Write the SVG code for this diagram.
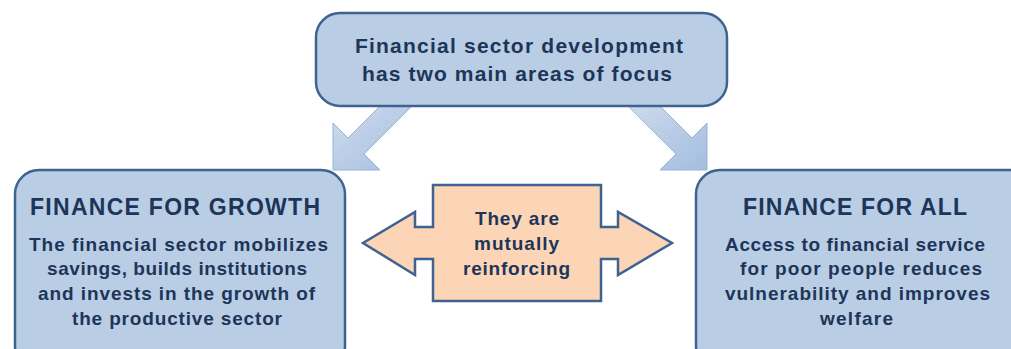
<svg xmlns="http://www.w3.org/2000/svg" width="1011" height="349" viewBox="0 0 1011 349">
<style>
.box{fill:#b9cde5;stroke:#3f6390;stroke-width:2.5}
.dbl{fill:#fbd5b5;stroke:#3f6390;stroke-width:2.5;stroke-linejoin:miter}
.diag{fill:url(#g);stroke:#9ab2d3;stroke-width:1}
text{font-family:"Liberation Sans",Arial,sans-serif;font-weight:bold;fill:#1d3558;text-anchor:middle}
.t{font-size:21px}
.h{font-size:23px}
.b{font-size:19px}
</style>
<defs>
<linearGradient id="g" x1="0" y1="0" x2="1" y2="1">
<stop offset="0" stop-color="#d0ddef"/>
<stop offset="1" stop-color="#a4bddf"/>
</linearGradient>
</defs>
<rect width="1011" height="349" fill="#ffffff"/>
<g id="connectors">
<polygon class="diag" points="386,100 348,138 333,123 333,170 380,170 364,154 418,100"/>
<polygon class="diag" points="654,100 692,138 707,123 707,170 660,170 676,154 622,100"/>
</g>
<g id="top">
<rect class="box" x="316" y="13" width="411" height="93" rx="24"/>
<text class="t" x="519" y="53" textLength="328" lengthAdjust="spacing">Financial sector development</text>
<text class="t" x="517" y="81" textLength="310" lengthAdjust="spacing">has two main areas of focus</text>
</g>
<g id="growth">
<rect class="box" x="15" y="170" width="330" height="200" rx="24"/>
<text class="h" x="175" y="215" textLength="290" lengthAdjust="spacing">FINANCE FOR GROWTH</text>
<text class="b" x="178.5" y="251" textLength="299" lengthAdjust="spacing">The financial sector mobilizes</text>
<text class="b" x="177" y="275" textLength="260" lengthAdjust="spacing">savings, builds institutions</text>
<text class="b" x="176.5" y="299.5" textLength="277" lengthAdjust="spacing">and invests in the growth of</text>
<text class="b" x="177" y="324.5" textLength="210" lengthAdjust="spacing">the productive sector</text>
</g>
<g id="all">
<rect class="box" x="696" y="170" width="340" height="200" rx="24"/>
<text class="h" x="855" y="215" textLength="224" lengthAdjust="spacing">FINANCE FOR ALL</text>
<text class="b" x="855" y="251" textLength="260" lengthAdjust="spacing">Access to financial service</text>
<text class="b" x="861" y="275" textLength="242" lengthAdjust="spacing">for poor people reduces</text>
<text class="b" x="857.5" y="300" textLength="265" lengthAdjust="spacing">vulnerability and improves</text>
<text class="b" x="856.5" y="325" textLength="73" lengthAdjust="spacing">welfare</text>
</g>
<g id="mutual">
<polygon class="dbl" points="433,185 601,185 601,227 618,227 618,212 672,243 618,275 618,259 601,259 601,301 433,301 433,259 415,259 415,275 363,243 415,212 415,227 433,227"/>
<text class="b" x="517" y="225" textLength="84" lengthAdjust="spacing">They are</text>
<text class="b" x="516.5" y="250" textLength="85" lengthAdjust="spacing">mutually</text>
<text class="b" x="516.5" y="275" textLength="107" lengthAdjust="spacing">reinforcing</text>
</g>
</svg>
